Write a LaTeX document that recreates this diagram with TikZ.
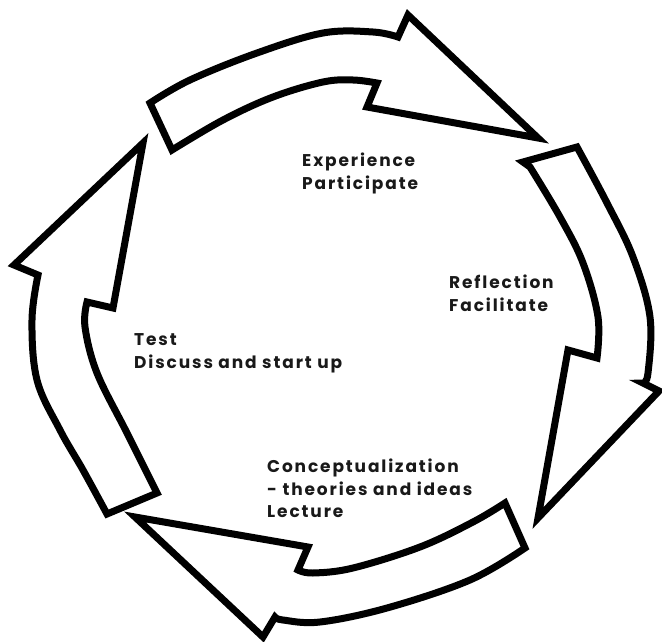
\documentclass[tikz,border=0pt]{standalone}
\usepackage{fontspec}
\setmainfont{Poppins}[LetterSpace=11]
\begin{document}
\begin{tikzpicture}[x=1pt,y=-1pt,
  cyclearrow/.style={draw=black, fill=white, line width=7pt, line join=miter, miter limit=20},
  lbl/.style={anchor=base west, inner sep=0pt, text=black!90, font=\fontsize{17}{20}\selectfont\bfseries}]
\useasboundingbox[fill=white] (0,0) rectangle (662,642);
% top arrow
\path[cyclearrow] (150,103) -- plot[smooth, tension=0.6] coordinates {(150,103) (190,80) (257,53) (323,33) (373,32) (398,37)}
  -- (408,15) -- (538,138) -- (367,107) -- (377,83)
  -- plot[smooth, tension=0.6] coordinates {(377,83) (353,80) (323,82) (273,97) (223,120) (172,150)} -- cycle;
% right arrow
\path[cyclearrow] (577,147) -- plot[smooth, tension=0.6] coordinates {(577,147) (607,203) (633,257) (650,317) (648,373) (643,383)}
  -- (659,391) -- (538,518) -- (568,350) -- (597,358)
  -- plot[smooth, tension=0.6] coordinates {(597,358) (598,317) (583,263) (560,217) (530,167)} -- (523,162) -- cycle;
% bottom arrow
\path[cyclearrow] (525,548) -- plot[smooth, tension=0.6] coordinates {(525,548) (470,580) (387,608) (320,622) (283,620) (275,617)}
  -- (263,637) -- (135,517) -- (308,547) -- (298,570)
  -- plot[smooth, tension=0.6] coordinates {(298,570) (313,573) (353,568) (420,547) (473,522) (505,503)} -- cycle;
% left arrow
\path[cyclearrow] (107,514) -- plot[smooth, tension=0.6] coordinates {(107,514) (83,470) (60,430) (37,380) (32,320) (38,275)}
  -- (14,265) -- (143,143) -- (113,308) -- (87,302)
  -- plot[smooth, tension=0.6] coordinates {(87,302) (85,327) (97,373) (127,433) (157,493)} -- cycle;
% labels
\node[lbl] (exp) at (302,166) {Experience};
\node[lbl] (par) at (302,189) {Participate};
\node[lbl] (ref) at (449,288) {Reflection};
\node[lbl] (fac) at (449,311) {Facilitate};
\node[lbl] (tst) at (134,345) {Test};
\node[lbl] (dis) at (134,368) {Discuss and start up};
\node[lbl] (con) at (267,472) {Conceptualization};
\node[lbl] (the) at (267,495) {- theories and ideas};
\node[lbl] (lec) at (267,517) {Lecture};
\end{tikzpicture}
\end{document}
